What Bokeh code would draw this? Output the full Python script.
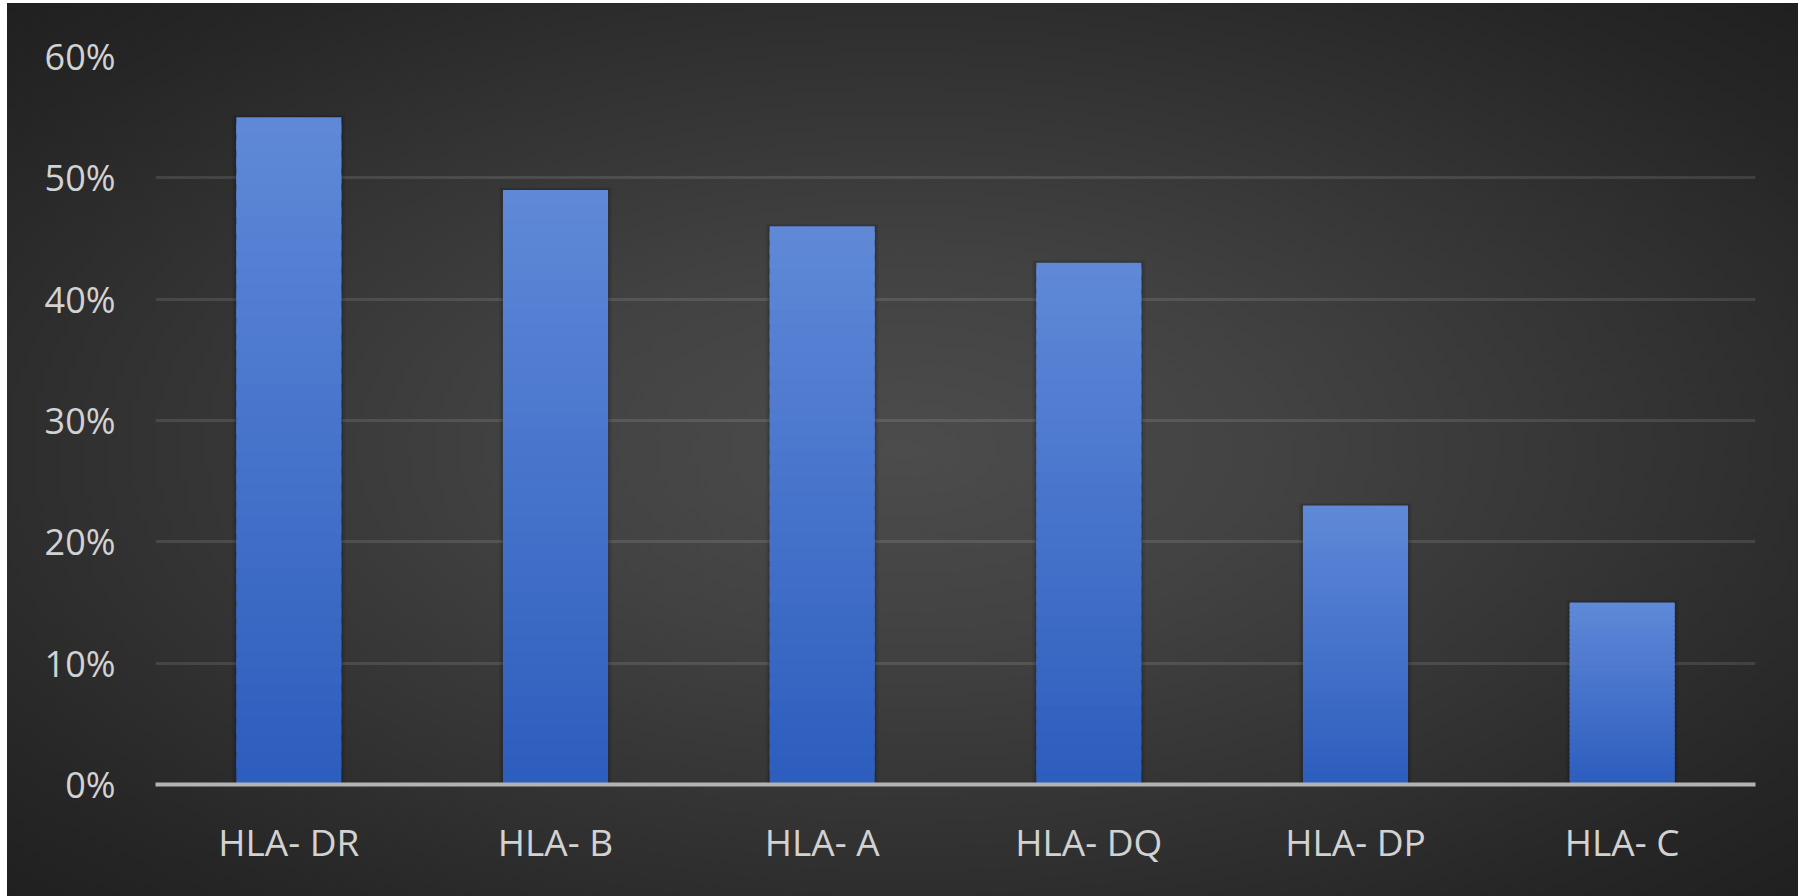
from bokeh.plotting import figure
from bokeh.layouts import column, row
from bokeh.models import Spacer, NumeralTickFormatter, FixedTicker
from bokeh.embed import file_html
from bokeh.resources import INLINE

# Share of cases per HLA locus
loci = ["HLA- DR", "HLA- B", "HLA- A", "HLA- DQ", "HLA- DP", "HLA- C"]
shares = [0.55, 0.49, 0.46, 0.43, 0.23, 0.15]
y_ticks = [0.0, 0.1, 0.2, 0.3, 0.4, 0.5, 0.6]

BAR_W = 0.394
TOP_RGB = (0x5f, 0x88, 0xd7)
BOTTOM_RGB = (0x2d, 0x5e, 0xbe)
N_BANDS = 40

p = figure(
    x_range=loci, y_range=(0, 0.6),
    width=1791, height=893,
    output_backend="svg", toolbar_location=None,
    min_border_left=148, min_border_right=43,
    min_border_top=53, min_border_bottom=112,
)
p.background_fill_color = None
p.border_fill_color = None
p.outline_line_color = None
p.styles = {
    "background": "radial-gradient(ellipse farthest-corner at 50% 50%, "
                  "#4c4c4c 0%, #424242 30%, #333333 60%, #262626 85%, #202020 100%)"
}

# soft shadow behind each bar
p.vbar(x=loci, top=[v + 0.002 for v in shares], bottom=0, width=BAR_W + 0.03,
       fill_color="black", fill_alpha=0.07, line_color=None)
p.vbar(x=loci, top=[v + 0.001 for v in shares], bottom=0, width=BAR_W + 0.014,
       fill_color="black", fill_alpha=0.12, line_color=None)

# bars drawn as thin horizontal bands to give a vertical gradient
xs, bottoms, tops, colors = [], [], [], []
for name, v in zip(loci, shares):
    step = v / N_BANDS
    for i in range(N_BANDS):
        t = i / (N_BANDS - 1)
        r, g, b = (round(BOTTOM_RGB[k] + (TOP_RGB[k] - BOTTOM_RGB[k]) * t) for k in range(3))
        xs.append(name)
        bottoms.append(step * i)
        tops.append(v if i == N_BANDS - 1 else step * (i + 1.6))
        colors.append(f"#{r:02x}{g:02x}{b:02x}")
p.vbar(x=xs, bottom=bottoms, top=tops, width=BAR_W, fill_color=colors, line_color=None)

# grid
p.xgrid.grid_line_color = None
p.ygrid.ticker = FixedTicker(ticks=y_ticks)
p.ygrid.grid_line_color = "white"
p.ygrid.grid_line_alpha = 0.11
p.ygrid.grid_line_width = 3

# y axis
p.yaxis.ticker = FixedTicker(ticks=y_ticks)
p.yaxis.formatter = NumeralTickFormatter(format="0%")
p.yaxis.axis_line_color = None
p.yaxis.major_tick_line_color = None
p.yaxis.minor_tick_line_color = None
p.yaxis.major_tick_out = 0
p.yaxis.major_label_standoff = 40
p.yaxis.major_label_text_font = "Open Sans"
p.yaxis.major_label_text_font_size = "36px"
p.yaxis.major_label_text_color = "#d2d2d2"

# x axis
p.xaxis.axis_line_color = "#b3b3b3"
p.xaxis.axis_line_width = 4
p.xaxis.major_tick_line_color = None
p.xaxis.minor_tick_line_color = None
p.xaxis.major_tick_out = 0
p.xaxis.major_label_standoff = 31
p.xaxis.major_label_text_font = "Open Sans"
p.xaxis.major_label_text_font_size = "37px"
p.xaxis.major_label_text_color = "#d2d2d2"

layout = column(Spacer(height=3), row(Spacer(width=7), p))
open("out.html", "w").write(file_html(layout, INLINE))
